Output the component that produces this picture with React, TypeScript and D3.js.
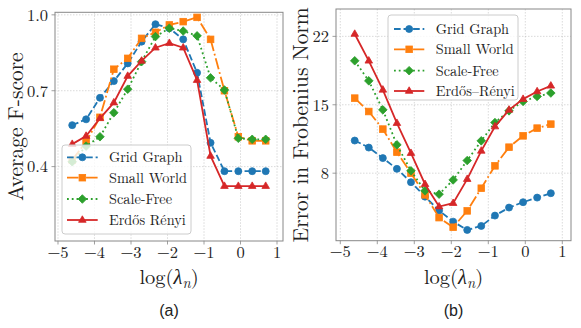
import React from 'react';
import * as d3 from 'd3';

// ---------- data ----------
const logLambda = [-4.61, -4.23, -3.85, -3.47, -3.09, -2.71, -2.33, -1.95, -1.57, -1.19, -0.82, -0.44, -0.06, 0.32, 0.69];

const fscoreGrid = [0.564, 0.587, 0.672, 0.738, 0.808, 0.894, 0.963, 0.947, 0.903, 0.771, 0.494, 0.382, 0.382, 0.382, 0.382];
const fscoreSmall = [0.426, 0.498, 0.595, 0.785, 0.828, 0.907, 0.931, 0.960, 0.973, 0.990, 0.903, 0.700, 0.518, 0.502, 0.502];
const fscoreScale = [0.419, 0.481, 0.518, 0.613, 0.706, 0.815, 0.914, 0.947, 0.936, 0.917, 0.751, 0.703, 0.512, 0.508, 0.508];
const fscoreER = [0.489, 0.521, 0.591, 0.653, 0.758, 0.818, 0.870, 0.888, 0.870, 0.742, 0.442, 0.323, 0.323, 0.323, 0.323];

const errGrid = [11.34, 10.62, 9.54, 8.44, 7.08, 5.60, 4.17, 3.04, 2.19, 2.60, 3.66, 4.48, 5.03, 5.50, 5.95];
const errSmall = [15.68, 14.31, 12.51, 10.15, 8.0, 5.78, 3.45, 2.47, 4.14, 6.46, 8.75, 10.66, 11.82, 12.61, 13.02];
const errScale = [19.5, 17.45, 14.48, 10.9, 8.24, 6.19, 5.85, 7.31, 9.29, 11.31, 13.18, 14.38, 15.34, 15.85, 16.2];
const errER = [22.24, 19.5, 16.53, 13.12, 10.05, 6.87, 4.58, 4.93, 7.39, 10.28, 12.77, 14.48, 15.58, 16.36, 16.94];

const namesA = ['Grid Graph', 'Small World', 'Scale-Free', 'Erdős Rényi'];
const namesB = ['Grid Graph', 'Small World', 'Scale-Free', 'Erdős–Rényi'];

const xTicks = [-5, -4, -3, -2, -1, 0, 1];
const fTicks = [0.4, 0.7, 1.0];
const eTicks = [8, 15, 22];

// ---------- styles ----------
const LW = 1.8;
const STYLES = [
  { color: '#1f77b4', dash: `${3.7 * LW},${1.6 * LW}`, marker: 'o' },
  { color: '#ff7f0e', dash: `${6.4 * LW},${1.6 * LW},${1 * LW},${1.6 * LW}`, marker: 's' },
  { color: '#2ca02c', dash: `${1 * LW},${1.65 * LW}`, marker: 'D' },
  { color: '#d62728', dash: 'none', marker: '^' },
];

const SERIF = "'Latin Modern Roman','CMU Serif','Liberation Serif','Times New Roman',serif";
const SANS = "'Liberation Sans','Arial','Helvetica',sans-serif";

function Marker({ kind, x, y, color }: { kind: string; x: number; y: number; color: string }) {
  if (kind === 'o') return <circle cx={x} cy={y} r={3.5} fill={color} stroke={color} strokeWidth={0.8} />;
  if (kind === 's') return <rect x={x - 3.3} y={y - 3.3} width={6.6} height={6.6} fill={color} stroke={color} strokeWidth={0.8} />;
  if (kind === 'D') {
    const r = 4.3;
    return <path d={`M${x},${y - r}L${x + r},${y}L${x},${y + r}L${x - r},${y}Z`} fill={color} stroke={color} strokeWidth={0.8} />;
  }
  const r = 4.2;
  return <path d={`M${x},${y - r}L${x + r * 0.9},${y + r * 0.55}L${x - r * 0.9},${y + r * 0.55}Z`} fill={color} stroke={color} strokeWidth={0.8} />;
}

type PanelProps = {
  box: { x0: number; x1: number; y0: number; y1: number };
  xDomain: [number, number];
  yDomain: [number, number];
  yTicks: number[];
  yFmt: (v: number) => string;
  series: number[][];
  names: string[];
  legend: { x0: number; x1: number; y0: number; y1: number; rows: number[]; lx0: number; lx1: number; tx: number };
  ylabel: string;
  ylabelX: number;
  caption: string;
};

function Panel(p: PanelProps) {
  const { box } = p;
  const xs = d3.scaleLinear().domain(p.xDomain).range([box.x0, box.x1]);
  const ys = d3.scaleLinear().domain(p.yDomain).range([box.y1, box.y0]);
  const line = d3.line<number>().x((_, i) => xs(logLambda[i])).y((d) => ys(d));
  const cx = (box.x0 + box.x1) / 2;
  const cy = (box.y0 + box.y1) / 2;
  const fmtX = (v: number) => (v < 0 ? '\u2212' + Math.abs(v) : String(v));
  const L = p.legend;
  return (
    <g>
      {/* grid */}
      {xTicks.map((t) => (
        <line key={'gx' + t} x1={xs(t)} x2={xs(t)} y1={box.y0} y2={box.y1} stroke="#b0b0b0" strokeOpacity={0.6} strokeWidth={0.8} strokeDasharray="1.5,1.5" />
      ))}
      {p.yTicks.map((t) => (
        <line key={'gy' + t} x1={box.x0} x2={box.x1} y1={ys(t)} y2={ys(t)} stroke="#b0b0b0" strokeOpacity={0.6} strokeWidth={0.8} strokeDasharray="1.5,1.5" />
      ))}
      {/* series */}
      {p.series.map((s, k) => (
        <g key={'s' + k}>
          <path d={line(s) || ''} fill="none" stroke={STYLES[k].color} strokeWidth={LW} strokeDasharray={STYLES[k].dash} />
          {s.map((v, i) => (
            <Marker key={i} kind={STYLES[k].marker} x={xs(logLambda[i])} y={ys(v)} color={STYLES[k].color} />
          ))}
        </g>
      ))}
      {/* frame */}
      <rect x={box.x0} y={box.y0} width={box.x1 - box.x0} height={box.y1 - box.y0} fill="none" stroke="#888" strokeWidth={1} />
      {/* ticks */}
      {xTicks.map((t) => (
        <g key={'tx' + t}>
          <line x1={xs(t)} x2={xs(t)} y1={box.y1} y2={box.y1 + 3.5} stroke="#888" strokeWidth={0.8} />
          <text x={xs(t)} y={box.y1 + 16.5} textAnchor="middle" fontFamily={SERIF} fontSize={16.5} fill="#222">
            {fmtX(t)}
          </text>
        </g>
      ))}
      {p.yTicks.map((t) => (
        <g key={'ty' + t}>
          <line x1={box.x0 - 3.5} x2={box.x0} y1={ys(t)} y2={ys(t)} stroke="#888" strokeWidth={0.8} />
          <text x={box.x0 - 7} y={ys(t)} dy="0.35em" textAnchor="end" fontFamily={SERIF} fontSize={16.5} fill="#222">
            {p.yFmt(t)}
          </text>
        </g>
      ))}
      {/* labels */}
      <text x={cx} y={284} textAnchor="middle" fontFamily={SERIF} fontSize={20.5} fill="#222">
        log(<tspan fontStyle="italic">λ</tspan>
        <tspan fontStyle="italic" fontSize={14.5} dy={4}>n</tspan>
        <tspan dy={-4}>)</tspan>
      </text>
      <text transform={`translate(${p.ylabelX},${cy}) rotate(-90)`} textAnchor="middle" dy="0.35em" fontFamily={SERIF} fontSize={21.5} fill="#222">
        {p.ylabel}
      </text>
      <text x={cx} y={316} textAnchor="middle" fontFamily={SANS} fontSize={16} fill="#222">
        {p.caption}
      </text>
      {/* legend */}
      <rect x={L.x0} y={L.y0} width={L.x1 - L.x0} height={L.y1 - L.y0} rx={3} fill="#fff" fillOpacity={0.8} stroke="#ccc" strokeWidth={1} />
      {p.names.map((n, k) => (
        <g key={'l' + k}>
          <line x1={L.lx0} x2={L.lx1} y1={L.rows[k]} y2={L.rows[k]} stroke={STYLES[k].color} strokeWidth={LW} strokeDasharray={STYLES[k].dash} />
          <Marker kind={STYLES[k].marker} x={(L.lx0 + L.lx1) / 2} y={L.rows[k]} color={STYLES[k].color} />
          <text x={L.tx} y={L.rows[k]} dy="0.35em" fontFamily={SERIF} fontSize={14.3} fill="#222">
            {n}
          </text>
        </g>
      ))}
    </g>
  );
}

export default function App() {
  return (
    <div style={{ position: 'fixed', left: 0, top: 0 }}>
      <svg width={581} height={328} viewBox="0 0 581 328" style={{ display: 'block', background: '#fff' }}>
        <Panel
          box={{ x0: 55, x1: 283, y0: 12.3, y1: 241 }}
          xDomain={[-5.082, 1.164]}
          yDomain={[0.106, 1.01]}
          yTicks={fTicks}
          yFmt={(v) => v.toFixed(1)}
          series={[fscoreGrid, fscoreSmall, fscoreScale, fscoreER]}
          names={namesA}
          legend={{ x0: 62, x1: 191, y0: 145, y1: 234, rows: [157.3, 177.7, 199, 220], lx0: 67, lx1: 97.7, tx: 109 }}
          ylabel="Average F-score"
          ylabelX={15}
          caption="(a)"
        />
        <Panel
          box={{ x0: 336, x1: 571, y0: 9, y1: 240.7 }}
          xDomain={[-5.116, 1.235]}
          yDomain={[1.09, 24.8]}
          yTicks={eTicks}
          yFmt={(v) => String(v)}
          series={[errGrid, errSmall, errScale, errER]}
          names={namesB}
          legend={{ x0: 388, x1: 518, y0: 15, y1: 100, rows: [29, 49.3, 70.7, 91], lx0: 394, lx1: 424.3, tx: 435.7 }}
          ylabel="Error in Frobenius Norm"
          ylabelX={300}
          caption="(b)"
        />
      </svg>
    </div>
  );
}
